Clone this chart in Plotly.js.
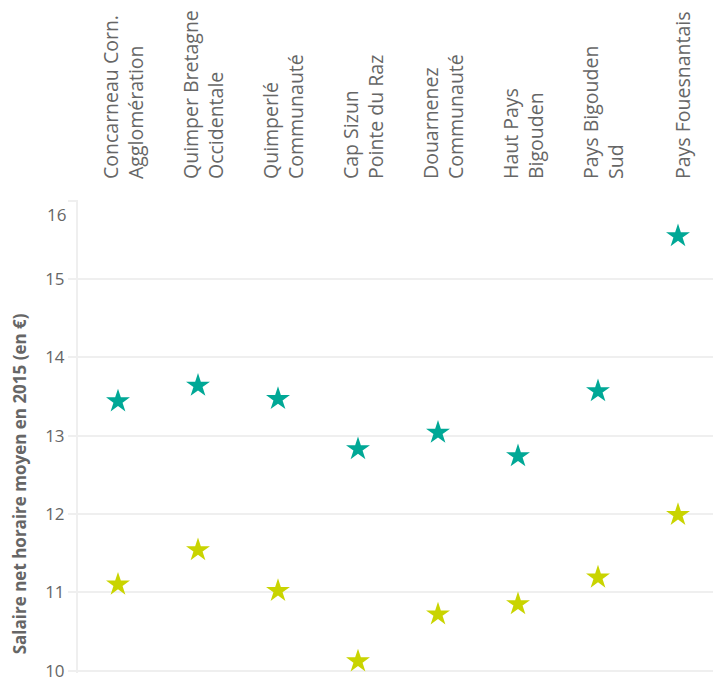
<!DOCTYPE html>
<html>
<head>
<meta charset="utf-8">
<script src="https://cdn.plot.ly/plotly-3.0.1.min.js"></script>
<style>html,body{margin:0;padding:0;background:#fff;}#chart{width:713px;height:680px;}</style>
</head>
<body>
<div id="chart"></div>
<script>
const categories = [
  "Concarneau Corn.<br>Agglomération",
  "Quimper Bretagne<br>Occidentale",
  "Quimperlé<br>Communauté",
  "Cap Sizun<br>Pointe du Raz",
  "Douarnenez<br>Communauté",
  "Haut Pays<br>Bigouden",
  "Pays Bigouden<br>Sud",
  "Pays Fouesnantais"
];
const seriesHigh = [13.44, 13.64, 13.47, 12.83, 13.04, 12.74, 13.57, 15.55];
const seriesLow = [11.10, 11.54, 11.02, 10.12, 10.72, 10.85, 11.19, 11.99];
const yTickVals = [10, 11, 12, 13, 14, 15, 16];
const yTickText = ["10", "11", "12", "13", "14", "15", ""];
const yTitle = "Salaire net horaire moyen en 2015 (en €)";

const idx = categories.map((c, i) => i);

const traces = [
  {
    type: "scatter", mode: "markers", x: idx, y: seriesLow,
    marker: {symbol: "star", size: 18, color: "#c9d400", line: {width: 0}},
    cliponaxis: false, showlegend: false, hoverinfo: "y"
  },
  {
    type: "scatter", mode: "markers", x: idx, y: seriesHigh,
    marker: {symbol: "star", size: 18, color: "#00a896", line: {width: 0}},
    cliponaxis: false, showlegend: false, hoverinfo: "y"
  }
];

const layout = {
  width: 713, height: 680,
  margin: {l: 78, r: 0, t: 200, b: 7, pad: 0},
  paper_bgcolor: "#ffffff", plot_bgcolor: "#ffffff",
  font: {family: "Open Sans, sans-serif", color: "#666666"},
  showlegend: false,
  xaxis: {
    side: "top",
    range: [-0.5, 7.4375],
    tickmode: "array", tickvals: idx, ticktext: categories,
    tickangle: -90,
    tickfont: {family: "Open Sans, sans-serif", size: 19.5, color: "#666666"},
    showgrid: false, zeroline: false, showline: false, ticks: "",
    ticklabelstandoff: 20,
    ticklabelshift: 6,
    fixedrange: true
  },
  yaxis: {
    range: [9.97, 16.01],
    tickmode: "array", tickvals: yTickVals, ticktext: yTickText,
    tickfont: {family: "Open Sans, sans-serif", size: 17, color: "#666666"},
    ticklabeloverflow: "allow",
    showgrid: true, gridcolor: "#efefef", gridwidth: 2,
    zeroline: false,
    showline: true, linecolor: "#efefef", linewidth: 2,
    ticks: "outside", ticklen: 8, tickcolor: "#efefef", tickwidth: 2,
    automargin: false,
    fixedrange: true
  },
  annotations: [
    {
      xref: "paper", yref: "y", x: 0, y: yTickVals[6], text: String(yTickVals[6]),
      showarrow: false, xanchor: "right", yanchor: "middle",
      xshift: -10, yshift: -14,
      font: {family: "Open Sans, sans-serif", size: 17, color: "#666666"}
    },
    {
      xref: "paper", yref: "paper", x: 0, y: 0.399, text: "<b>" + yTitle + "</b>",
      showarrow: false, textangle: -90, xanchor: "center", yanchor: "middle",
      xshift: -59,
      font: {family: "Open Sans, sans-serif", size: 17, color: "#666666"}
    }
  ]
};

Plotly.newPlot("chart", traces, layout, {displayModeBar: false, staticPlot: true});
</script>
</body>
</html>
